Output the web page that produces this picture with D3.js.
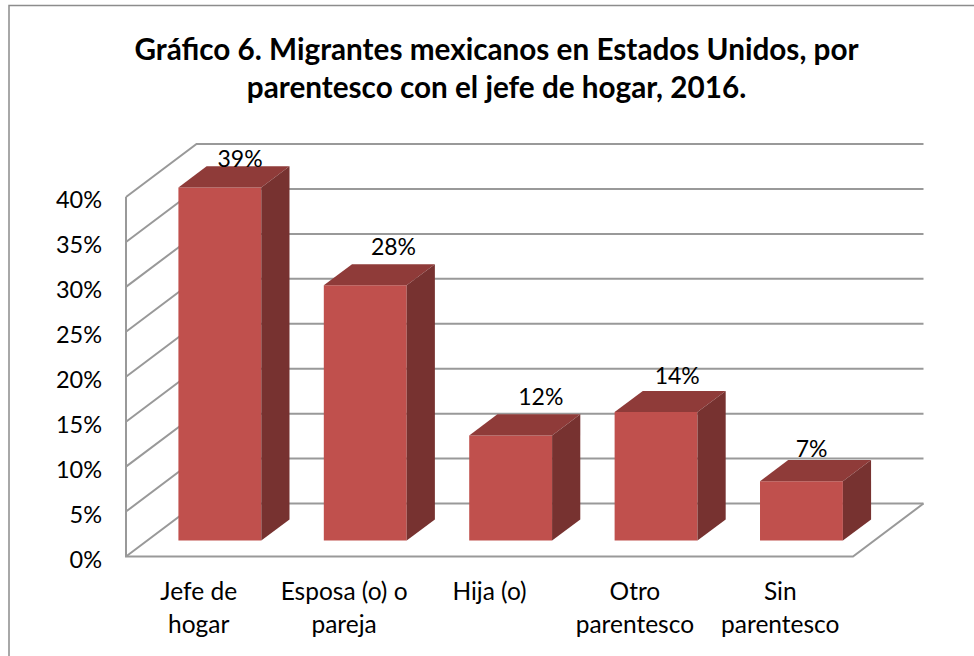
<!DOCTYPE html>
<html>
<head>
<meta charset="utf-8">
<script src="https://cdn.jsdelivr.net/npm/d3@7"></script>
<style>
  body { margin: 0; background: #fff; }
  text { font-family: Lato, "Open Sans", sans-serif; fill: #000; }
</style>
</head>
<body>
<script>
const titleLines = ["Gráfico 6. Migrantes mexicanos en Estados Unidos, por", "parentesco con el jefe de hogar, 2016."];
const categories = ["Jefe de hogar", "Esposa (o) o pareja", "Hija (o)", "Otro parentesco", "Sin parentesco"];
const categoryLines = [["Jefe de", "hogar"], ["Esposa (o) o", "pareja"], ["Hija (o)"], ["Otro", "parentesco"], ["Sin", "parentesco"]];
const values = [0.393, 0.284, 0.117, 0.143, 0.066];
const yTicks = [0, 0.05, 0.1, 0.15, 0.2, 0.25, 0.3, 0.35, 0.4];

let width = 974,
    height = 656;

let svg = d3.select('body')
            .append('svg')
            .attr('width', width)
            .attr('height', height)
            .style('display', 'block');

// front plane of the 3d box
let xScale = d3.scaleBand()
              .domain(categories)
              .range([126, 853])
              .paddingInner(0.43)
              .paddingOuter(0.215);

let yScale = d3.scaleLinear()
              .domain([0, 0.4])
              .range([556.5, 197]);

// depth goes back and up: 0 is the front plane, 1 the back wall
let depthX = d3.scaleLinear().domain([0, 1]).range([0, 70.5]);
let depthY = d3.scaleLinear().domain([0, 1]).range([0, -53]);

const gridColor = '#999999';
const barFront = '#c0504d', barTop = '#8f3b39', barSide = '#773230';
const barDepth = [0.3, 0.7];

function pt(x, value, depth) {
  return [x + depthX(depth), yScale(value) + depthY(depth)];
}
let poly = d3.line();

// outer frame, only top and left show
svg.append('path')
   .attr('d', poly([[9, height], [9, 5.5], [width, 5.5]]))
   .attr('fill', 'none')
   .attr('stroke', '#8c8c8c')
   .attr('stroke-width', 1.5);

// title
svg.selectAll('.title')
   .data(titleLines)
   .enter()
   .append('text')
   .attr('class', 'title')
   .attr('x', 496.5)
   .attr('y', (d, i) => 60 + i * 38)
   .attr('text-anchor', 'middle')
   .style('font-size', '29.7px')
   .style('font-weight', 700)
   .text(d => d);

// walls and floor
let grid = svg.append('g')
              .attr('fill', 'none')
              .attr('stroke', gridColor)
              .attr('stroke-width', 2);

yTicks.forEach(t => {
  grid.append('path')
      .attr('d', poly([pt(126, t, 0), pt(126, t, 1), pt(853, t, 1)]));
});
grid.append('path')
    .attr('d', poly([pt(126, 0.4, 0), pt(126, 0, 0), pt(853, 0, 0), pt(853, 0, 1)]));

// y axis labels
let yAxis = svg.append('g')
               .attr('transform', 'translate(126, 0)')
               .call(d3.axisLeft(yScale).tickValues(yTicks).tickFormat(d3.format('.0%')).tickSize(0).tickPadding(24));
yAxis.select('.domain').remove();
yAxis.selectAll('text')
     .attr('dy', '0.45em')
     .style('font-family', 'Lato, "Open Sans", sans-serif')
     .style('font-size', '23.5px');

// bars
let bars = svg.selectAll('.bar')
              .data(categories)
              .enter()
              .append('g')
              .attr('class', 'bar');

bars.append('path')
    .attr('fill', barFront)
    .attr('d', (d, i) => {
      let x0 = xScale(d), x1 = x0 + xScale.bandwidth(), z = barDepth[0];
      return poly([pt(x0, 0, z), pt(x0, values[i], z), pt(x1, values[i], z), pt(x1, 0, z)]) + 'Z';
    });
bars.append('path')
    .attr('fill', barTop)
    .attr('d', (d, i) => {
      let x0 = xScale(d), x1 = x0 + xScale.bandwidth();
      return poly([pt(x0, values[i], barDepth[0]), pt(x0, values[i], barDepth[1]), pt(x1, values[i], barDepth[1]), pt(x1, values[i], barDepth[0])]) + 'Z';
    });
bars.append('path')
    .attr('fill', barSide)
    .attr('d', (d, i) => {
      let x1 = xScale(d) + xScale.bandwidth();
      return poly([pt(x1, 0, barDepth[0]), pt(x1, values[i], barDepth[0]), pt(x1, values[i], barDepth[1]), pt(x1, 0, barDepth[1])]) + 'Z';
    });

// value labels were moved by hand in the original, so each gets a nudge from the bar's back top edge
const labelNudge = [[-8, 1], [0, -9], [2, -9], [-7, -6.5], [-18, -3.5]];
svg.selectAll('.value')
   .data(categories)
   .enter()
   .append('text')
   .attr('class', 'value')
   .attr('x', (d, i) => pt(xScale(d) + xScale.bandwidth() / 2, values[i], barDepth[1])[0] + labelNudge[i][0])
   .attr('y', (d, i) => pt(0, values[i], barDepth[1])[1] + labelNudge[i][1])
   .attr('text-anchor', 'middle')
   .style('font-size', '23px')
   .text((d, i) => d3.format('.0%')(values[i]));

// category labels
categories.forEach((c, i) => {
  svg.append('g')
     .selectAll('text')
     .data(categoryLines[i])
     .enter()
     .append('text')
     .attr('x', xScale(c) + xScale.bandwidth() / 2)
     .attr('y', (d, j) => 600 + j * 33)
     .attr('text-anchor', 'middle')
     .style('font-size', '24.5px')
     .text(d => d);
});
</script>
</body>
</html>
